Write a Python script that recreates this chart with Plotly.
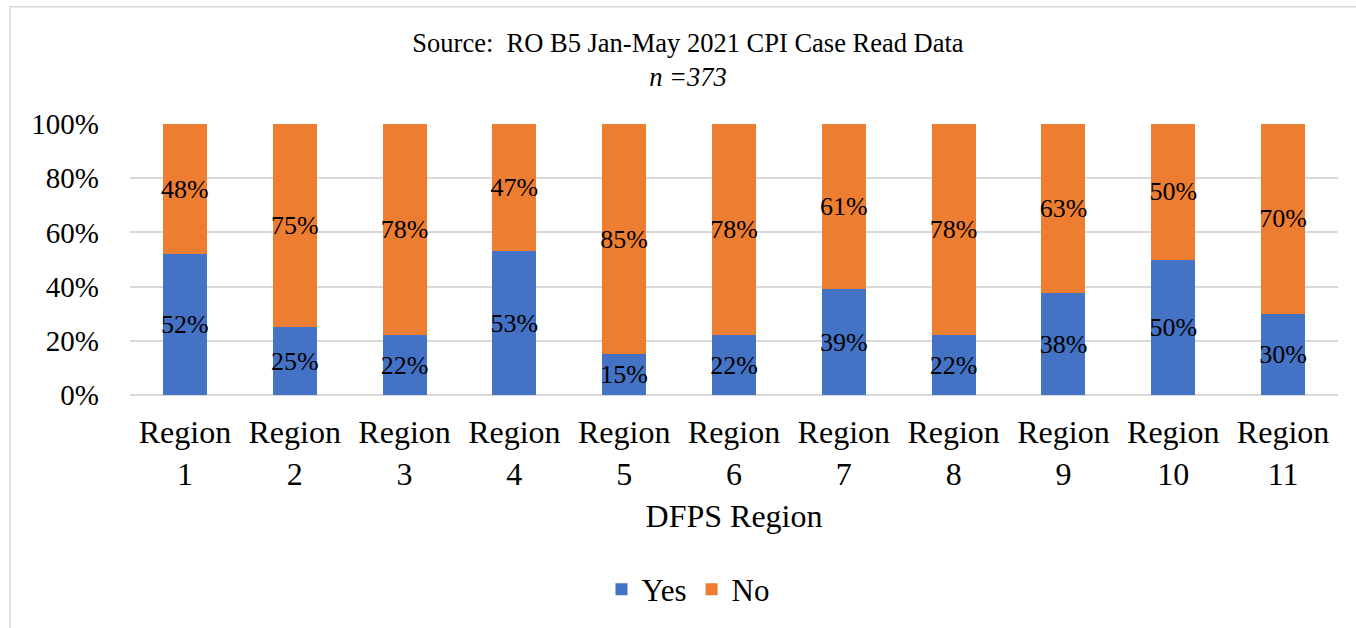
import plotly.graph_objects as go

categories = ["Region<br>1", "Region<br>2", "Region<br>3", "Region<br>4", "Region<br>5",
              "Region<br>6", "Region<br>7", "Region<br>8", "Region<br>9", "Region<br>10", "Region<br>11"]
yes_vals = [52, 25, 22, 53, 15, 22, 39, 22, 38, 50, 30]
no_vals = [48, 75, 78, 47, 85, 78, 61, 78, 63, 50, 70]
y_ticks = [0, 20, 40, 60, 80, 100]

FONT = "Liberation Serif"
W, H = 1356, 628
L, R, T, B = 130, 18, 124, 231
pw, ph = W - L - R, H - T - B

fig = go.Figure()
for name, vals, color in [("Yes", yes_vals, "#4472C4"), ("No", no_vals, "#ED7D31")]:
    fig.add_trace(go.Bar(
        x=categories, y=vals, name=name, marker_color=color, marker_line_width=0,
        text=[f"{v}%" for v in vals], texttemplate="%{text}",
        textposition="inside", insidetextanchor="middle", constraintext="none",
        textangle=0,
        textfont=dict(family=FONT, size=26, color="black"),
        cliponaxis=False, hoverinfo="skip",
    ))

fig.update_layout(
    width=W, height=H,
    margin=dict(l=L, r=R, t=T, b=B),
    barmode="stack", barnorm="percent", bargap=0.6,
    paper_bgcolor="white", plot_bgcolor="white",
    font=dict(family=FONT, color="black"),
    title=dict(text="Source:  RO B5 Jan-May 2021 CPI Case Read Data<br><i>n =373</i>",
               x=688 / W, xanchor="center", xref="container",
               y=1 - 52 / H, yanchor="top", yref="container",
               font=dict(family=FONT, size=26.5, color="black")),
    showlegend=True,
    legend=dict(orientation="h", x=(688 - L) / pw, xanchor="center",
                y=(397 - 593) / ph, yanchor="middle",
                font=dict(family=FONT, size=31, color="black"), traceorder="normal",
                itemwidth=30),
)
fig.update_xaxes(
    showgrid=False, showline=False, zeroline=False, automargin=False,
    tickfont=dict(family=FONT, size=32, color="black"),
    ticklabelstandoff=15,
    title=dict(text="DFPS Region", font=dict(family=FONT, size=32, color="black"), standoff=14),
)
fig.update_yaxes(
    range=[0, 100], tickvals=y_ticks, ticktext=[f"{v}%" for v in y_ticks],
    showgrid=True, gridcolor="#D9D9D9", gridwidth=1.5,
    zeroline=True, zerolinecolor="#D9D9D9", zerolinewidth=1.5,
    showline=False, ticklabelstandoff=30, automargin=False,
    tickfont=dict(family=FONT, size=29, color="black"),
)
fig.add_shape(type="rect", xref="paper", yref="paper",
              x0=(10 - L) / pw, x1=1.2, y0=-1.5, y1=(397 - 6) / ph,
              line=dict(color="#D9D9D9", width=1.5), fillcolor="rgba(0,0,0,0)", layer="below")

fig.write_html("out.html", config={"displayModeBar": False},
               post_script="document.body.style.margin='0';")
